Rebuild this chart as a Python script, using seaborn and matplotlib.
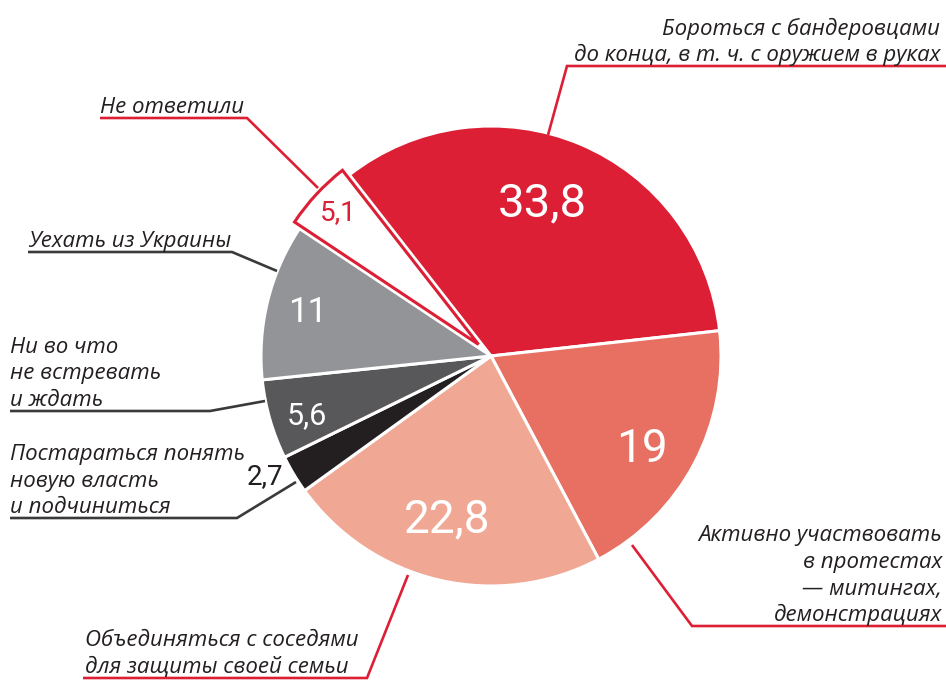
import matplotlib
matplotlib.use("Agg")
import matplotlib.pyplot as plt
import seaborn as sns

# данные
categories = [
    "Бороться с бандеровцами\nдо конца, в т. ч. с оружием в руках",
    "Активно участвовать\nв протестах\n— митингах,\nдемонстрациях",
    "Объединяться с соседями\nдля защиты своей семьи",
    "Постараться понять\nновую власть\nи подчиниться",
    "Ни во что\nне встревать\nи ждать",
    "Уехать из Украины",
    "Не ответили",
]
values = [33.8, 19, 22.8, 2.7, 5.6, 11, 5.1]
value_labels = ["33,8", "19", "22,8", "2,7", "5,6", "11", "5,1"]

colors = ["#DC1F35", "#E87062", "#F0A794", "#231F20", "#58585A", "#939497", "white"]
num_colors = ["white", "white", "white", "#231F20", "white", "white", "#DC1F35"]
num_sizes = [34, 33, 33, 20, 22, 25, 20]
line_colors = ["#DC1F35", "#DC1F35", "#DC1F35", "#3A3A3A", "#3A3A3A", "#3A3A3A", "#DC1F35"]

W, H = 946, 681
RED = "#DC1F35"
TXT = "#231F20"

sns.set_theme(style="white")
plt.rcParams["font.family"] = ["Open Sans", "DejaVu Sans"]


def Y(y):
    # координаты картинки сверху вниз -> данные снизу вверх
    return H - y


fig = plt.figure(figsize=(W / 100, H / 100), dpi=100)
ax = fig.add_axes([0, 0, 1, 1])

cx, cy, R = 491, 356, 230
explode = [0, 0, 0, 0, 0, 0, 17]
wedges, _ = ax.pie(values, colors=colors, startangle=128, counterclock=False,
                   center=(cx, Y(cy)), radius=R, explode=explode,
                   wedgeprops=dict(edgecolor="white", linewidth=2.2))
# "Не ответили" - белый сектор с красной обводкой
wedges[-1].set_radius(R - 9)
wedges[-1].set_edgecolor(RED)
wedges[-1].set_linewidth(2.2)
wedges[-1].set_joinstyle("miter")

ax.set_xlim(0, W)
ax.set_ylim(0, H)
ax.set_aspect("equal")
ax.axis("off")

# подписи значений
num_pos = [(542, 203), (642, 449), (447, 519), (265, 477), (307, 416), (308, 312), (338, 213)]
for (x, y), lab, c, s in zip(num_pos, value_labels, num_colors, num_sizes):
    ax.text(x, Y(y), lab, color=c, fontsize=s, ha="center", va="center",
            family=["Roboto", "DejaVu Sans"])

# подписи категорий: (x текста, выравнивание, y подчёркивания, ломаная выноски)
label_layout = [
    (940, "right", 66, [(548, 135), (567, 66), (946, 66)]),
    (942, "right", 626, [(632, 545), (692, 626), (946, 626)]),
    (85, "left", 678, [(408, 575), (367, 678), (83, 678)]),
    (10, "left", 518, [(296, 482), (237, 518), (10, 518)]),
    (10, "left", 411, [(265, 401), (210, 411), (10, 411)]),
    (28, "left", 252, [(277, 271), (232, 252), (28, 252)]),
    (100, "left", 118, [(318, 188), (247, 118), (100, 118)]),
]
for cat, (tx, ha, uy, pts), lc in zip(categories, label_layout, line_colors):
    lines = cat.split("\n")
    for i, line in enumerate(reversed(lines)):
        ax.text(tx, Y(uy - 5 - i * 26.5), line, fontsize=16, style="italic",
                color=TXT, ha=ha, va="baseline")
    ax.plot([p[0] for p in pts], [Y(p[1]) for p in pts], color=lc, lw=1.9,
            solid_joinstyle="miter", solid_capstyle="butt")

fig.savefig("out.png", dpi=100)
